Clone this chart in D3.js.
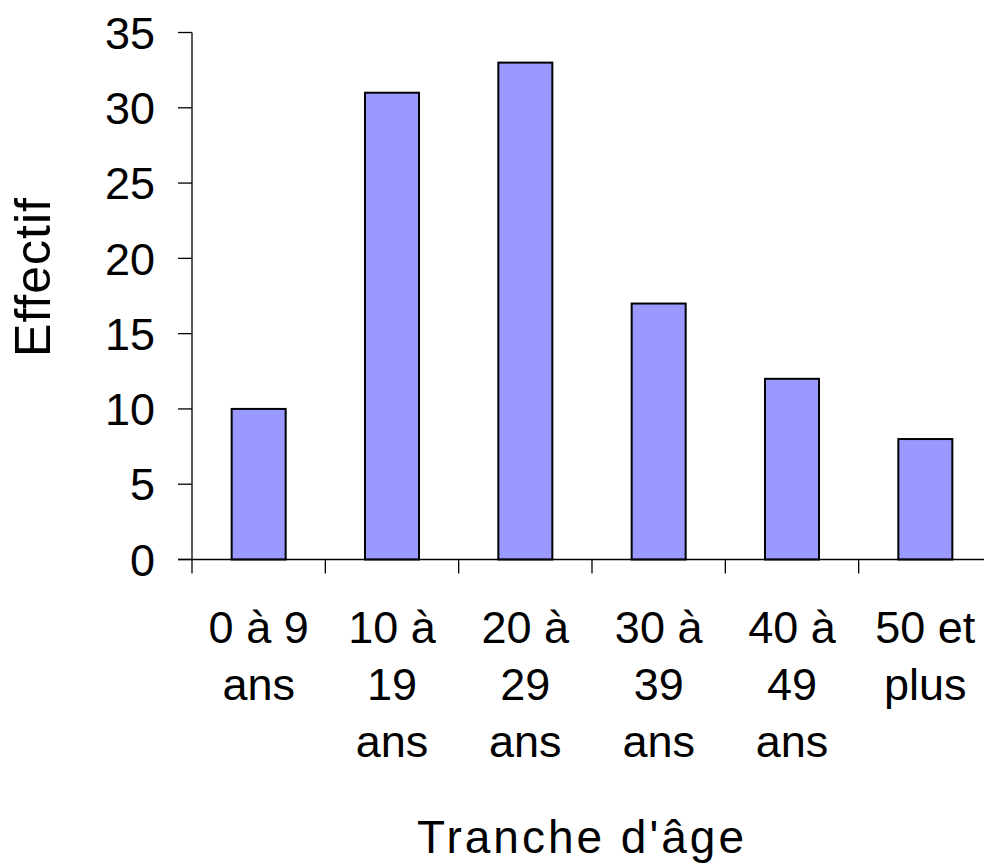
<!DOCTYPE html>
<html>
<head>
<meta charset="utf-8">
<script src="https://cdn.jsdelivr.net/npm/d3@7"></script>
<style>
  html, body { margin: 0; padding: 0; background: #fff; }
  svg { display: block; font-family: "Liberation Sans", Arial, sans-serif; }
</style>
</head>
<body>
<svg id="chart" width="984" height="865"></svg>
<script>
const categories = [
  ["0 à 9", "ans"],
  ["10 à", "19", "ans"],
  ["20 à", "29", "ans"],
  ["30 à", "39", "ans"],
  ["40 à", "49", "ans"],
  ["50 et", "plus"]
];
const values = [10, 31, 33, 17, 12, 8];
const yTicks = [0, 5, 10, 15, 20, 25, 30, 35];
const xTitle = "Tranche d'âge";
const yTitle = "Effectif";

(function () {
const svg = d3.select("#chart");
const plotLeft = 192, plotRight = 992, plotTop = 32.5, plotBottom = 559.5;

const x = d3.scaleBand()
  .domain(d3.range(categories.length))
  .range([plotLeft, plotRight])
  .paddingInner(0.595)
  .paddingOuter(0.2975);

const xb = d3.scaleBand()
  .domain(d3.range(categories.length))
  .range([plotLeft, plotRight]);

const y = d3.scaleLinear().domain([0, 35]).range([plotBottom, plotTop]);

// Bars
svg.append("g").selectAll("rect")
  .data(values)
  .join("rect")
  .attr("x", (d, i) => x(i))
  .attr("y", d => y(d))
  .attr("width", x.bandwidth())
  .attr("height", d => y(0) - y(d))
  .attr("fill", "#9999FF")
  .attr("stroke", "#000")
  .attr("stroke-width", 2);

// Y axis
const yAxis = svg.append("g");
yAxis.append("line")
  .attr("x1", plotLeft).attr("x2", plotLeft)
  .attr("y1", y(35)).attr("y2", y(0))
  .attr("stroke", "#000").attr("stroke-width", 1.3);
yAxis.selectAll("line.tick")
  .data(yTicks)
  .join("line")
  .attr("class", "tick")
  .attr("x1", plotLeft - 14).attr("x2", plotLeft)
  .attr("y1", d => y(d)).attr("y2", d => y(d))
  .attr("stroke", "#000").attr("stroke-width", 1.3);
yAxis.selectAll("text")
  .data(yTicks)
  .join("text")
  .attr("x", 155)
  .attr("y", d => y(d))
  .attr("dy", "0.36em")
  .attr("text-anchor", "end")
  .attr("font-size", 45)
  .attr("fill", "#000")
  .text(d => d);

// X axis
const xAxis = svg.append("g");
xAxis.append("line")
  .attr("x1", plotLeft - 14).attr("x2", plotRight)
  .attr("y1", y(0)).attr("y2", y(0))
  .attr("stroke", "#000").attr("stroke-width", 1.3);
xAxis.selectAll("line.tick")
  .data(d3.range(categories.length + 1))
  .join("line")
  .attr("class", "tick")
  .attr("x1", i => plotLeft + i * xb.step())
  .attr("x2", i => plotLeft + i * xb.step())
  .attr("y1", y(0)).attr("y2", y(0) + 14)
  .attr("stroke", "#000").attr("stroke-width", 1.3);

const labels = xAxis.selectAll("text")
  .data(categories)
  .join("text")
  .attr("text-anchor", "middle")
  .attr("font-size", 45)
  .attr("fill", "#000");
labels.each(function(lines, i) {
  const t = d3.select(this);
  lines.forEach((ln, k) => {
    t.append("tspan")
      .attr("x", xb(i) + xb.bandwidth() / 2)
      .attr("y", 643 + k * 57)
      .text(ln);
  });
});

// Axis titles
svg.append("text")
  .attr("x", 582)
  .attr("y", 853)
  .attr("text-anchor", "middle")
  .attr("font-size", 46)
  .attr("letter-spacing", 3)
  .attr("fill", "#000")
  .text(xTitle);

svg.append("text")
  .attr("transform", "translate(50,277) rotate(-90)")
  .attr("text-anchor", "middle")
  .attr("font-size", 50)
  .attr("letter-spacing", 1)
  .attr("fill", "#000")
  .text(yTitle);
})();
</script>
</body>
</html>
